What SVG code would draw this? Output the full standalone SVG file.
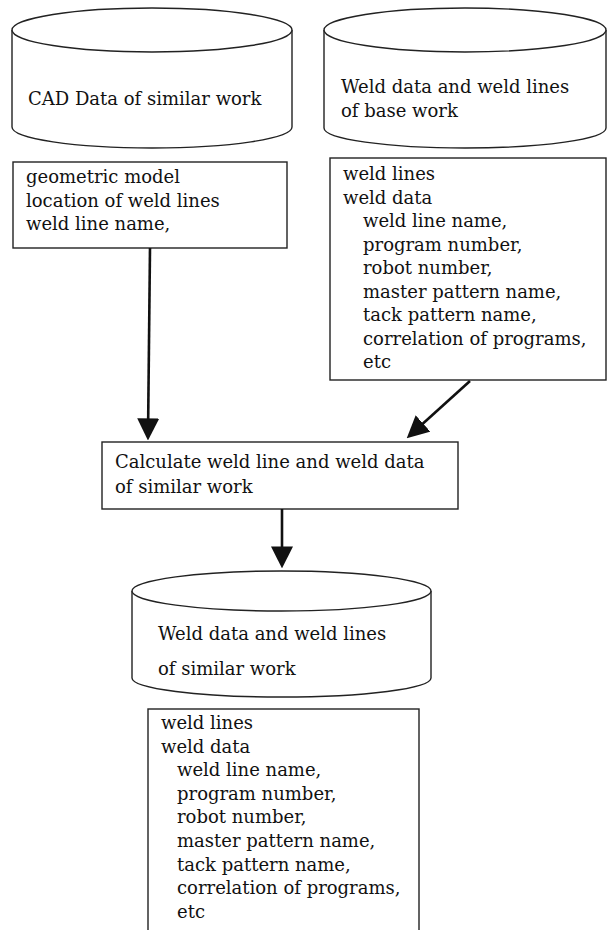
<svg xmlns="http://www.w3.org/2000/svg" width="607" height="930" viewBox="0 0 607 930">
<style>
.shape{fill:#fff;stroke:#222;stroke-width:1.4}
.t{font-family:"DejaVu Serif","Liberation Serif",serif;font-size:18px;fill:#111}
.conn{fill:none;stroke:#111;stroke-width:2.6}
</style>
<defs>
<marker id="ah" markerUnits="userSpaceOnUse" markerWidth="22" markerHeight="22" viewBox="0 0 20 20" refX="16" refY="10" orient="auto">
<path d="M0,0 L20,10 L0,20 z" fill="#111"/>
</marker>
</defs>
<rect width="607" height="930" fill="#fff"/>
<g id="cad-db">
<path class="shape" d="M12,30 L12,127 A140,21 0 0 0 292,127 L292,30"/>
<ellipse class="shape" cx="152" cy="30" rx="140" ry="22"/>
<text class="t" x="28" y="105">CAD Data of similar work</text>
</g>
<g id="base-db">
<path class="shape" d="M324,30 L324,128 A141,20 0 0 0 606,128 L606,30"/>
<ellipse class="shape" cx="465" cy="30" rx="141" ry="22"/>
<text class="t" x="341" y="93">Weld data and weld lines</text>
<text class="t" x="341" y="117">of base work</text>
</g>
<g id="cad-box">
<rect class="shape" x="13" y="162" width="274" height="86"/>
<text class="t" x="26" y="183">geometric model</text>
<text class="t" x="26" y="207">location of weld lines</text>
<text class="t" x="26" y="230">weld line name,</text>
</g>
<g id="base-box">
<rect class="shape" x="330" y="158" width="276" height="222"/>
<text class="t" x="343" y="180">weld lines</text>
<text class="t" x="343" y="203.5">weld data</text>
<text class="t" x="363" y="227">weld line name,</text>
<text class="t" x="363" y="250.5">program number,</text>
<text class="t" x="363" y="274">robot number,</text>
<text class="t" x="363" y="297.5">master pattern name,</text>
<text class="t" x="363" y="321">tack pattern name,</text>
<text class="t" x="363" y="344.5">correlation of programs,</text>
<text class="t" x="363" y="368">etc</text>
</g>
<g id="calc">
<rect class="shape" x="102" y="442" width="356" height="67"/>
<text class="t" x="115" y="468">Calculate weld line and weld data</text>
<text class="t" x="115" y="493">of similar work</text>
</g>
<g id="similar-db">
<path class="shape" d="M132,591 L132,678 A149.5,19 0 0 0 431,678 L431,591"/>
<ellipse class="shape" cx="281.5" cy="591" rx="149.5" ry="20"/>
<text class="t" x="158" y="640">Weld data and weld lines</text>
<text class="t" x="158" y="675">of similar work</text>
</g>
<g id="similar-box">
<rect class="shape" x="148" y="709" width="271" height="235"/>
<text class="t" x="161" y="729">weld lines</text>
<text class="t" x="161" y="752.6">weld data</text>
<text class="t" x="177" y="776.2">weld line name,</text>
<text class="t" x="177" y="799.8">program number,</text>
<text class="t" x="177" y="823.4">robot number,</text>
<text class="t" x="177" y="847">master pattern name,</text>
<text class="t" x="177" y="870.6">tack pattern name,</text>
<text class="t" x="177" y="894.2">correlation of programs,</text>
<text class="t" x="177" y="917.8">etc</text>
</g>
<g id="connectors">
<path class="conn" d="M150,248 L148,436" marker-end="url(#ah)"/>
<path class="conn" d="M470,381 L410,435.3" marker-end="url(#ah)"/>
<path class="conn" d="M282,509 L282,564" marker-end="url(#ah)"/>
</g>
</svg>
